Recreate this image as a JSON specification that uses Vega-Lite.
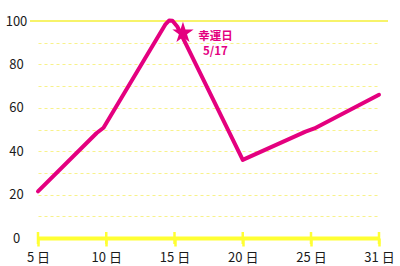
{
  "$schema": "https://vega.github.io/schema/vega-lite/v6.json",
  "width": 358,
  "height": 217,
  "autosize": "none",
  "padding": {"left": 30, "top": 21, "right": 12, "bottom": 28},
  "background": "white",
  "config": {"view": {"stroke": null}, "font": "Noto Sans CJK JP"},
  "datasets": {
    "luck": [
      {"day": 5, "value": 21.5},
      {"day": 9.3, "value": 48.4},
      {"day": 9.8, "value": 50.8},
      {"day": 14.35, "value": 98.6},
      {"day": 14.6, "value": 100.2},
      {"day": 14.85, "value": 100.1},
      {"day": 15.2, "value": 97.5},
      {"day": 20, "value": 36},
      {"day": 24.6, "value": 49},
      {"day": 25.3, "value": 50.5},
      {"day": 31, "value": 66}
    ],
    "marks": [{"day": 5}, {"day": 10}, {"day": 15}, {"day": 20}, {"day": 25}, {"day": 31}],
    "lucky": [{"day": 15.62, "value": 94.5}],
    "note": [
      {"labelDay": 18, "labelValue": 92.6, "label": "幸運日"},
      {"labelDay": 18, "labelValue": 85.6, "label": "5/17"}
    ]
  },
  "encoding": {
    "x": {
      "type": "quantitative",
      "scale": {"domain": [5, 25, 31], "range": [8, 281, 349], "nice": false, "zero": false},
      "axis": {
        "orient": "bottom",
        "values": [5, 10, 15, 20, 25, 31],
        "labelExpr": "datum.value + ' 日'",
        "title": null,
        "grid": false,
        "domainColor": "#ffff33",
        "domainWidth": 4,
        "tickColor": "#ffff33",
        "tickWidth": 2.5,
        "tickSize": 8,
        "labelPadding": 5,
        "labelFontSize": 13,
        "labelColor": "#1a1a1a",
        "labelFont": "Noto Sans CJK JP",
        "labelFlush": false
      }
    },
    "y": {
      "type": "quantitative",
      "scale": {"domain": [0, 100], "nice": false, "zero": true},
      "axis": {
        "values": [0, 10, 20, 30, 40, 50, 60, 70, 80, 90, 100],
        "labelExpr": "datum.value % 20 === 0 ? datum.label : ''",
        "title": null,
        "domain": false,
        "ticks": false,
        "tickSize": 0,
        "labelPadding": 14,
        "labelAlign": "center",
        "labelBaseline": "middle",
        "labelFontSize": 13,
        "labelColor": "#1a1a1a",
        "labelFont": "Noto Sans CJK JP",
        "grid": true,
        "gridColor": "#f8f28a",
        "gridWidth": 1.2,
        "gridDash": [3, 3]
      }
    }
  },
  "layer": [
    {
      "data": {"name": "luck"},
      "mark": {"type": "rule", "color": "#f7f36a", "strokeWidth": 2},
      "encoding": {"y": {"datum": 100}}
    },
    {
      "data": {"name": "luck"},
      "mark": {"type": "line", "color": "#e4007f", "strokeWidth": 4, "strokeCap": "round", "strokeJoin": "round"},
      "encoding": {
        "x": {"field": "day", "type": "quantitative"},
        "y": {"field": "value", "type": "quantitative"}
      }
    },
    {
      "data": {"name": "marks"},
      "mark": {"type": "tick", "color": "#ffff33", "thickness": 2.5, "size": 12, "opacity": 1},
      "encoding": {
        "x": {"field": "day", "type": "quantitative"},
        "y": {"datum": 0}
      }
    },
    {
      "data": {"name": "lucky"},
      "mark": {"type": "point", "shape": "M0,-1L0.2245,-0.309L0.951,-0.309L0.363,0.118L0.588,0.809L0,0.382L-0.588,0.809L-0.363,0.118L-0.951,-0.309L-0.2245,-0.309Z", "filled": true, "color": "#e4007f", "size": 500, "opacity": 1},
      "encoding": {
        "x": {"field": "day", "type": "quantitative"},
        "y": {"field": "value", "type": "quantitative"}
      }
    },
    {
      "data": {"name": "note"},
      "mark": {"type": "text", "color": "#e4007f", "fontSize": 11.5, "fontWeight": "bold", "align": "center", "baseline": "middle", "font": "Noto Sans CJK JP"},
      "encoding": {
        "x": {"field": "labelDay", "type": "quantitative"},
        "y": {"field": "labelValue", "type": "quantitative"},
        "text": {"field": "label"}
      }
    }
  ]
}
